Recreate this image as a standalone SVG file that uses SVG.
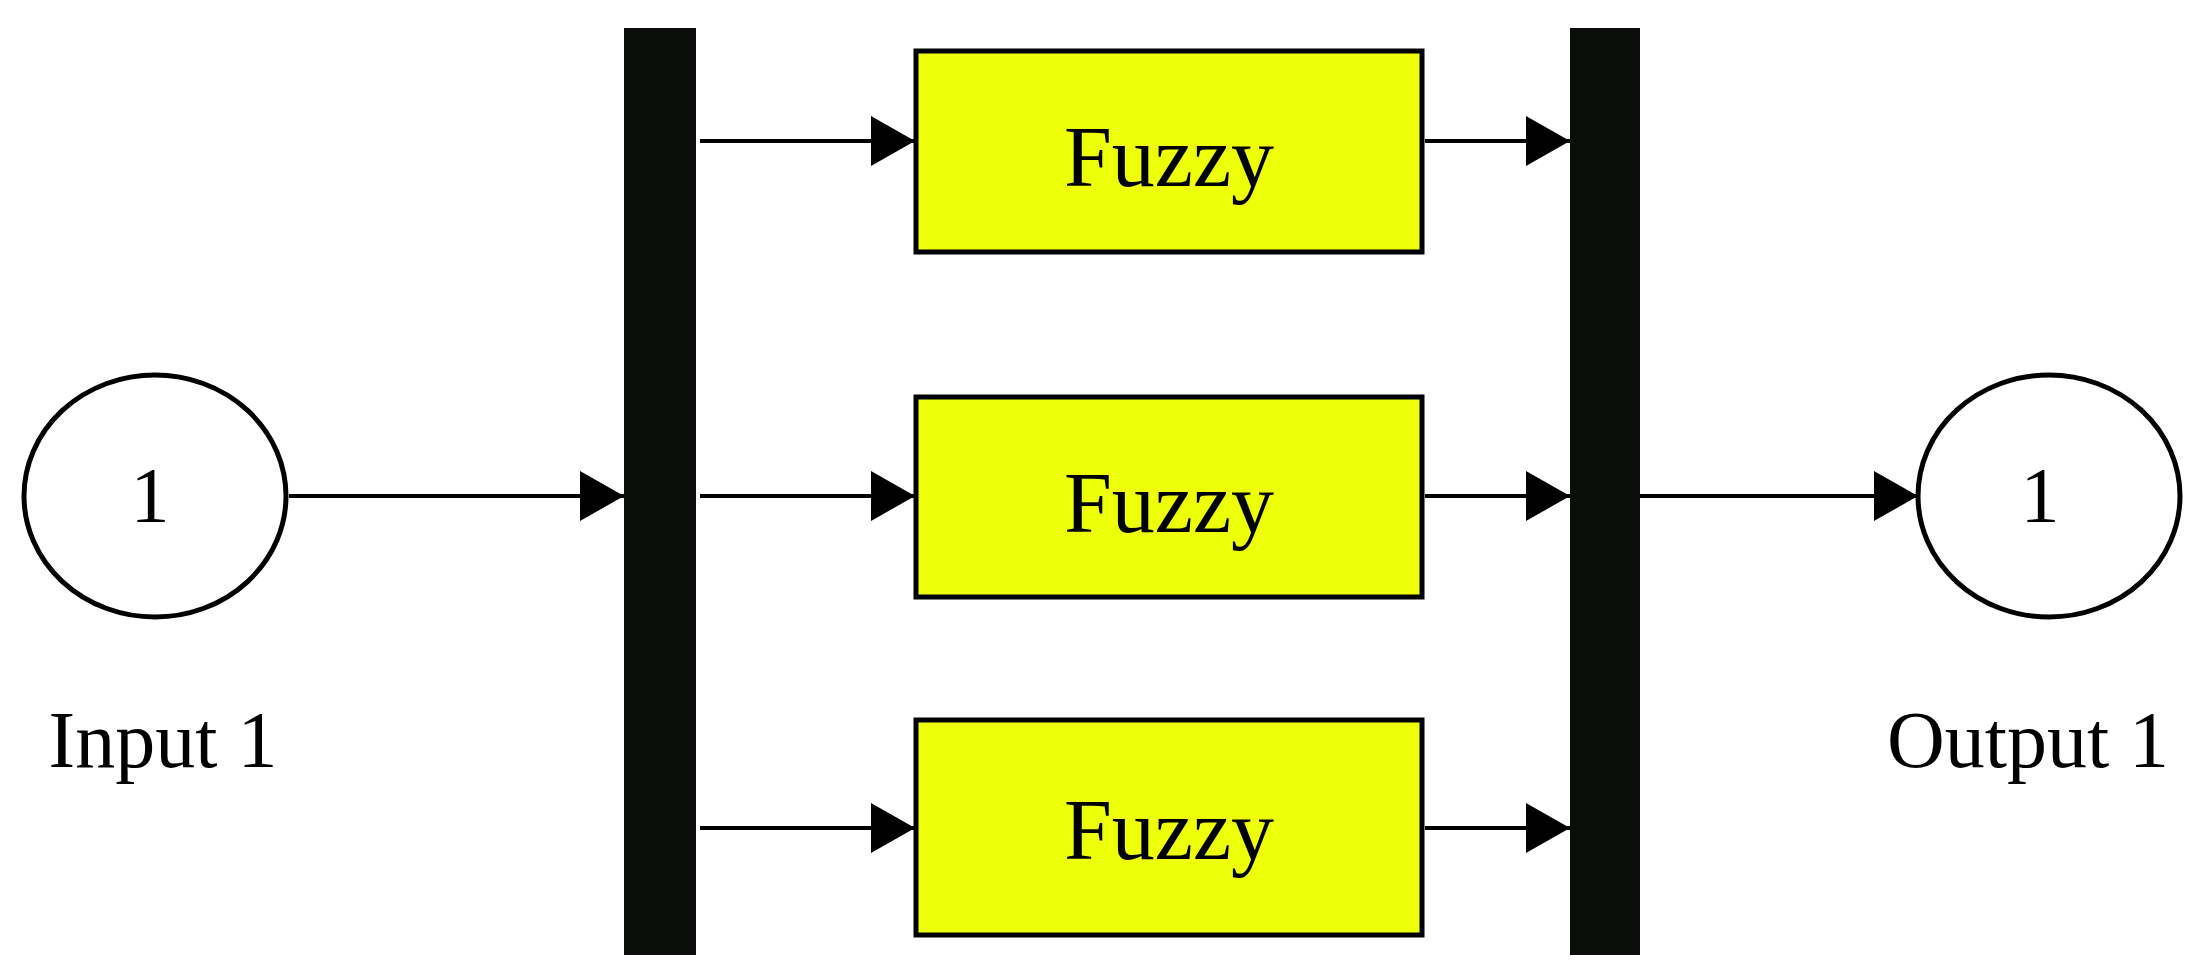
<svg xmlns="http://www.w3.org/2000/svg" width="2208" height="979" viewBox="0 0 2208 979">
<style>
.t{font-family:"Liberation Serif",serif;fill:#000;text-anchor:middle}
.box{fill:#eeff0a;stroke:#000;stroke-width:5}
.ln{stroke:#000;stroke-width:4;fill:none}
.bar{fill:#0a0d0a}
</style>
<defs><marker id="a" markerUnits="userSpaceOnUse" markerWidth="44" markerHeight="50" refX="44" refY="25" orient="auto"><path d="M0,0L44,25L0,50Z" fill="#000"/></marker></defs>
<rect width="2208" height="979" fill="#fff"/>
<g id="in"><ellipse cx="155" cy="496" rx="131" ry="121" fill="#fff" stroke="#000" stroke-width="5"/><text class="t" x="150" y="521" font-size="78">1</text><text class="t" x="163" y="767" font-size="80">Input 1</text></g>
<g id="demux"><rect class="bar" x="624" y="28" width="72" height="927"/></g>
<g id="mux"><rect class="bar" x="1570" y="28" width="70" height="927"/></g>
<g id="f1"><rect class="box" x="916" y="51" width="506" height="201"/><text class="t" x="1169" y="186" font-size="86">Fuzzy</text></g>
<g id="f2"><rect class="box" x="916" y="397" width="506" height="200"/><text class="t" x="1169" y="532" font-size="86">Fuzzy</text></g>
<g id="f3"><rect class="box" x="916" y="720" width="506" height="215"/><text class="t" x="1169" y="859" font-size="86">Fuzzy</text></g>
<g id="out"><ellipse cx="2049" cy="496" rx="131" ry="121" fill="#fff" stroke="#000" stroke-width="5"/><text class="t" x="2040" y="521" font-size="78">1</text><text class="t" x="2028" y="767" font-size="80">Output 1</text></g>
<g id="connectors" marker-end="url(#a)">
<line class="ln" x1="289" y1="496" x2="624" y2="496" marker-end="url(#a)"/>
<line class="ln" x1="700" y1="141" x2="915" y2="141" marker-end="url(#a)"/>
<line class="ln" x1="700" y1="496" x2="915" y2="496" marker-end="url(#a)"/>
<line class="ln" x1="700" y1="828" x2="915" y2="828" marker-end="url(#a)"/>
<line class="ln" x1="1425" y1="141" x2="1570" y2="141" marker-end="url(#a)"/>
<line class="ln" x1="1425" y1="496" x2="1570" y2="496" marker-end="url(#a)"/>
<line class="ln" x1="1425" y1="828" x2="1570" y2="828" marker-end="url(#a)"/>
<line class="ln" x1="1640" y1="496" x2="1918" y2="496" marker-end="url(#a)"/>
</g>
</svg>
